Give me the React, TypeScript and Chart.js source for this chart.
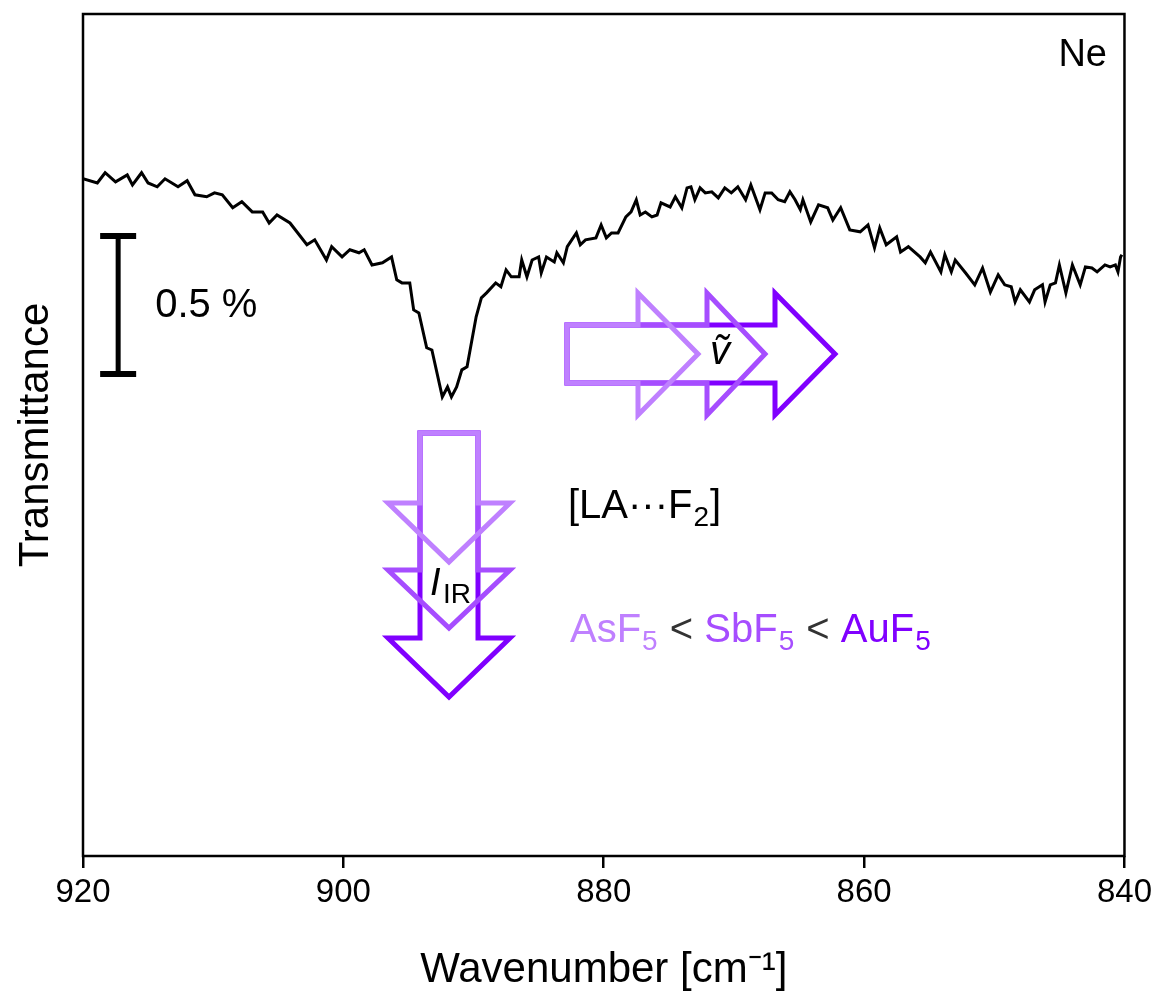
import { useEffect, useRef } from "react";
import { Chart, registerables } from "chart.js";

Chart.register(...registerables);

const FONT = '"Liberation Sans", Arial, "Helvetica Neue", sans-serif';

// Wavenumber (cm^-1) of the IR trace, left (920) to right (840)
const wavenumber = [
  920.0, 918.9, 918.3, 917.5, 916.6, 916.2, 915.5, 915.0, 914.3, 913.7,
  912.7, 912.0, 911.4, 910.5, 909.9, 909.3, 908.5, 907.8, 907.0, 906.2,
  905.7, 905.1, 904.1, 902.8, 902.2, 901.3, 900.9, 900.1, 899.5, 898.8,
  898.4, 897.8, 897.0, 896.3, 895.9, 895.5, 894.9, 894.6, 894.2, 893.6,
  893.2, 892.4, 892.0, 891.7, 891.3, 890.9, 890.5, 889.8, 889.4, 889.0,
  888.3, 887.9, 887.5, 887.1, 886.5, 886.3, 885.9, 885.5, 885.0, 884.8,
  884.4, 883.8, 883.6, 883.1, 882.8, 882.1, 881.8, 881.4, 880.6, 880.2,
  879.8, 879.4, 878.9, 878.3, 877.9, 877.5, 877.2, 876.8, 876.3, 875.9,
  875.6, 874.9, 874.5, 874.0, 873.6, 873.3, 873.0, 872.6, 872.2, 871.7,
  871.2, 870.7, 870.2, 869.7, 869.1, 868.7, 868.0, 867.6, 867.1, 866.6,
  866.1, 865.7, 865.3, 864.9, 864.7, 864.1, 863.5, 862.8, 862.4, 861.8,
  861.1, 860.3, 859.7, 859.2, 858.8, 858.3, 857.5, 857.2, 856.6, 855.7,
  855.3, 854.9, 854.1, 853.8, 853.3, 853.0, 852.2, 851.5, 850.9, 850.3,
  849.7, 849.2, 848.7, 848.4, 848.0, 847.3, 846.9, 846.3, 846.1, 845.7,
  845.3, 845.0, 844.5, 844.0, 843.4, 843.0, 842.5, 842.1, 841.5, 841.1,
  840.7, 840.5, 840.3, 840.2,
];

// Relative transmittance (%), arbitrary offset
const transmittance = [
  2.453, 2.438, 2.475, 2.442, 2.467, 2.431, 2.475, 2.438, 2.424, 2.453,
  2.424, 2.446, 2.395, 2.388, 2.402, 2.395, 2.348, 2.370, 2.333, 2.333,
  2.293, 2.322, 2.293, 2.214, 2.232, 2.159, 2.207, 2.170, 2.196, 2.185,
  2.196, 2.141, 2.149, 2.170, 2.087, 2.076, 2.076, 1.978, 1.967, 1.841,
  1.833, 1.663, 1.699, 1.663, 1.699, 1.761, 1.772, 1.953, 2.022, 2.040,
  2.076, 2.062, 2.123, 2.098, 2.098, 2.159, 2.098, 2.159, 2.170, 2.112,
  2.170, 2.152, 2.185, 2.149, 2.207, 2.257, 2.214, 2.232, 2.239, 2.286,
  2.239, 2.257, 2.257, 2.315, 2.333, 2.377, 2.322, 2.333, 2.315, 2.322,
  2.366, 2.351, 2.388, 2.348, 2.420, 2.424, 2.377, 2.420, 2.402, 2.406,
  2.384, 2.420, 2.402, 2.424, 2.377, 2.431, 2.341, 2.402, 2.402, 2.377,
  2.370, 2.406, 2.377, 2.341, 2.377, 2.297, 2.359, 2.348, 2.304, 2.348,
  2.268, 2.261, 2.286, 2.203, 2.275, 2.214, 2.243, 2.188, 2.207, 2.170,
  2.149, 2.188, 2.116, 2.178, 2.116, 2.159, 2.112, 2.069, 2.130, 2.043,
  2.105, 2.069, 2.062, 2.007, 2.051, 2.007, 2.051, 2.069, 2.007, 2.069,
  2.076, 2.141, 2.040, 2.141, 2.069, 2.134, 2.130, 2.116, 2.141, 2.134,
  2.141, 2.116, 2.170, 2.178,
];

const xTicks = [920, 900, 880, 860, 840];
const xTitle = "Wavenumber [cm⁻¹]";
const yTitle = "Transmittance";
const matrixLabel = "Ne";

// Scale bar
const scaleBarValue = 0.5;
const scaleBarTop = 2.246;
const scaleBarX = 917.3;

// Lewis acids, weakest to strongest
const acids = ["AsF", "SbF", "AuF"];
const acidSub = "5";
const acidColors = ["#BF80FF", "#A64DFF", "#8000FF"];
const complexLabel = ["[LA···F", "2", "]"];

const annotations = {
  id: "annotations",
  afterDatasetsDraw(chart: any) {
    const { ctx, chartArea: ca, scales } = chart;
    const xs = scales.x;
    const ys = scales.y;
    const L = ca.left;
    const T = ca.top;
    ctx.save();

    // frame
    ctx.strokeStyle = "#000";
    ctx.lineWidth = 2.5;
    ctx.strokeRect(ca.left, ca.top, ca.right - ca.left, ca.bottom - ca.top);

    // matrix label
    ctx.fillStyle = "#000";
    ctx.font = `38px ${FONT}`;
    ctx.textAlign = "right";
    ctx.textBaseline = "alphabetic";
    ctx.fillText(matrixLabel, L + 1024, T + 52);

    // scale bar
    const sx = xs.getPixelForValue(scaleBarX);
    const sy1 = ys.getPixelForValue(scaleBarTop);
    const sy2 = ys.getPixelForValue(scaleBarTop - scaleBarValue);
    ctx.lineWidth = 5;
    ctx.lineCap = "butt";
    ctx.beginPath();
    ctx.moveTo(sx, sy1);
    ctx.lineTo(sx, sy2);
    ctx.stroke();
    ctx.lineWidth = 6;
    ctx.beginPath();
    ctx.moveTo(sx - 18, sy1);
    ctx.lineTo(sx + 18, sy1);
    ctx.moveTo(sx - 18, sy2);
    ctx.lineTo(sx + 18, sy2);
    ctx.stroke();
    ctx.font = `40px ${FONT}`;
    ctx.textAlign = "left";
    ctx.textBaseline = "middle";
    ctx.fillText(`${scaleBarValue} %`, sx + 37, (sy1 + sy2) / 2 + 1);

    // horizontal arrows (wavenumber shift)
    ctx.lineWidth = 5;
    ctx.lineJoin = "miter";
    const hx0 = L + 484;
    const hyT = T + 311;
    const hyB = T + 369;
    const hhT = T + 279;
    const hhB = T + 401;
    const hMid = T + 340;
    const hBase = [555, 624, 692];
    const hTip = [615, 682, 752];
    for (const k of [2, 1, 0]) {
      ctx.strokeStyle = acidColors[k];
      ctx.beginPath();
      ctx.moveTo(hx0, hyT);
      ctx.lineTo(L + hBase[k], hyT);
      ctx.lineTo(L + hBase[k], hhT);
      ctx.lineTo(L + hTip[k], hMid);
      ctx.lineTo(L + hBase[k], hhB);
      ctx.lineTo(L + hBase[k], hyB);
      ctx.lineTo(hx0, hyB);
      ctx.closePath();
      ctx.stroke();
    }

    // vertical arrows (intensity)
    const vxL = L + 337;
    const vxR = L + 395;
    const vxC = L + 366;
    const vhL = L + 305;
    const vhR = L + 427;
    const vy0 = T + 419;
    const vBase = [489, 556, 624];
    const vTip = [548, 614, 683];
    for (const k of [2, 1, 0]) {
      ctx.strokeStyle = acidColors[k];
      ctx.beginPath();
      ctx.moveTo(vxL, vy0);
      ctx.lineTo(vxR, vy0);
      ctx.lineTo(vxR, T + vBase[k]);
      ctx.lineTo(vhR, T + vBase[k]);
      ctx.lineTo(vxC, T + vTip[k]);
      ctx.lineTo(vhL, T + vBase[k]);
      ctx.lineTo(vxL, T + vBase[k]);
      ctx.closePath();
      ctx.stroke();
    }

    // nu tilde
    ctx.fillStyle = "#000";
    ctx.textBaseline = "alphabetic";
    ctx.textAlign = "center";
    ctx.font = `italic 40px ${FONT}`;
    ctx.fillText("ṽ", L + 637, T + 350);

    // I_IR
    ctx.textAlign = "left";
    ctx.font = `italic 38px ${FONT}`;
    ctx.fillText("I", L + 347, T + 581);
    ctx.font = `28px ${FONT}`;
    ctx.fillText("IR", L + 360, T + 589);

    // [LA···F2]
    let cx = L + 485;
    ctx.font = `40px ${FONT}`;
    ctx.fillText(complexLabel[0], cx, T + 504);
    cx += ctx.measureText(complexLabel[0]).width;
    ctx.font = `28px ${FONT}`;
    ctx.fillText(complexLabel[1], cx + 1, T + 512);
    cx += ctx.measureText(complexLabel[1]).width + 2;
    ctx.font = `40px ${FONT}`;
    ctx.fillText(complexLabel[2], cx, T + 504);

    // AsF5 < SbF5 < AuF5
    cx = L + 487;
    const by = T + 628;
    acids.forEach((a, i) => {
      ctx.fillStyle = acidColors[i];
      ctx.font = `40px ${FONT}`;
      ctx.fillText(a, cx, by);
      cx += ctx.measureText(a).width;
      ctx.font = `28px ${FONT}`;
      ctx.fillText(acidSub, cx + 1, by + 8);
      cx += ctx.measureText(acidSub).width + 2;
      if (i < acids.length - 1) {
        ctx.fillStyle = "#333";
        ctx.font = `40px ${FONT}`;
        const s = " < ";
        ctx.fillText(s, cx, by);
        cx += ctx.measureText(s).width;
      }
    });

    ctx.restore();
  },
};

export default function App() {
  const ref = useRef<HTMLCanvasElement | null>(null);

  useEffect(() => {
    if (!ref.current) return;
    const points = wavenumber.map((w, i) => ({ x: w, y: transmittance[i] }));
    const chart = new Chart(ref.current, {
      type: "line",
      data: {
        datasets: [
          {
            data: points,
            borderColor: "#000",
            borderWidth: 3,
            pointRadius: 0,
            tension: 0,
            fill: false,
          },
        ],
      },
      options: {
        animation: false,
        responsive: false,
        layout: { padding: { top: 14, right: 30, left: 0, bottom: 0 } },
        plugins: {
          legend: { display: false },
          tooltip: { enabled: false },
        },
        scales: {
          x: {
            type: "linear",
            min: 840,
            max: 920,
            reverse: true,
            afterBuildTicks: (s: any) => {
              s.ticks = xTicks.map((v) => ({ value: v }));
            },
            afterFit: (s: any) => {
              s.height = 140;
            },
            ticks: {
              font: { size: 33, family: FONT },
              color: "#000",
              padding: 5,
              maxRotation: 0,
              autoSkip: false,
            },
            grid: {
              display: true,
              drawOnChartArea: false,
              drawTicks: true,
              tickLength: 12,
              color: "#000",
              lineWidth: 2.5,
            },
            border: { display: false },
            title: {
              display: true,
              text: xTitle,
              font: { size: 42, family: FONT },
              color: "#000",
              padding: { top: 0, bottom: 0 },
            },
          },
          y: {
            type: "linear",
            min: 0,
            max: 3.05,
            afterFit: (s: any) => {
              s.width = 83;
            },
            ticks: { display: false },
            grid: { display: false },
            border: { display: false },
            title: {
              display: true,
              text: yTitle,
              font: { size: 42, family: FONT },
              color: "#000",
              padding: { top: 11, bottom: 0 },
            },
          },
        },
      },
      plugins: [annotations],
    });
    return () => chart.destroy();
  }, []);

  return (
    <div style={{ position: "absolute", left: 0, top: 0, width: 1157, height: 996, background: "#fff" }}>
      <canvas ref={ref} width={1157} height={996} style={{ display: "block" }} />
    </div>
  );
}
